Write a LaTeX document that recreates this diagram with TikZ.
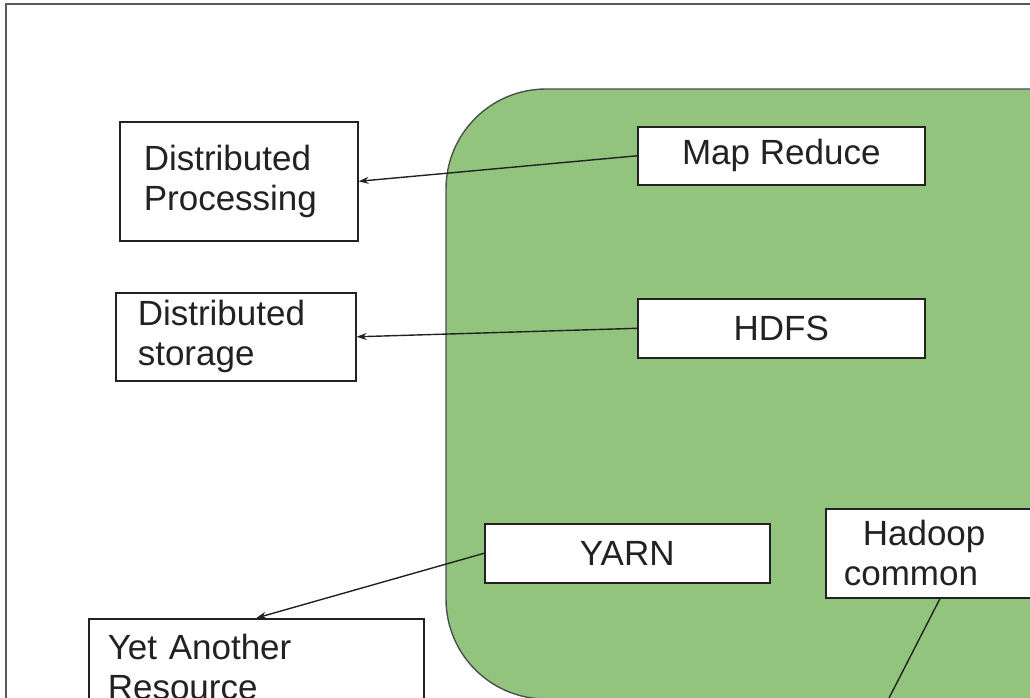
\documentclass[tikz,border=0pt]{standalone}
\usepackage{fontspec}
\setmainfont{Liberation Sans}
\usetikzlibrary{arrows.meta}
\definecolor{hadoopgreen}{HTML}{93C47D}
\definecolor{framegrey}{HTML}{595959}
\definecolor{inkdark}{HTML}{222222}

\begin{document}
\begin{tikzpicture}[x=1pt,y=-1pt,font=\fontsize{35}{40}\selectfont,
    box/.style={draw=inkdark,line width=1.6pt,fill=white,text=inkdark,inner sep=0pt,anchor=north west},
    link/.style={draw=inkdark,line width=1.4pt},
    tip/.style={-{Stealth[length=10pt,width=7pt]}}]
      \useasboundingbox (0,0) rectangle (1030,698);
      \clip (0,0) rectangle (1030,698);
      \draw[framegrey,line width=2pt] (6,4) rectangle (1060,730);
      \filldraw[fill=hadoopgreen,draw=inkdark!80,line width=1.4pt,rounded corners=100pt] (446,89) rectangle (1150,699);
      \node[box,minimum width=238pt,minimum height=119pt,text width=190pt,align=left] (proc) at (119,121) {Distributed\\Processing};
      \node[box,minimum width=240pt,minimum height=88pt,text width=196pt,align=left] (stor) at (115,292) {Distributed\\storage};
      \node[box,minimum width=287pt,minimum height=58pt] (mapred) at (637,126) {Map Reduce};
      \node[box,minimum width=287pt,minimum height=59pt] (hdfs) at (637,298) {HDFS};
      \node[box,minimum width=285pt,minimum height=59pt] (yarn) at (484,523) {YARN};
      \node[box,minimum width=256pt,minimum height=89pt,text width=220pt,align=left] (common) at (825,508) {\hspace*{19pt}Hadoop\\common};
      \node[box,minimum width=335pt,minimum height=96pt,text width=297pt,align=left] (yarname) at (88,618) {Yet Another\\Resource};
      \coordinate (commonend) at (888,700);
      \draw[link,tip] (mapred.west) -- (proc.east);
      \draw[link,tip] (hdfs.west) -- (stor.east);
      \draw[link,tip] (yarn.west) -- (yarname.north);
      \draw[link] ([xshift=115pt]common.south west) -- (commonend);
    \end{tikzpicture}
\end{document}
